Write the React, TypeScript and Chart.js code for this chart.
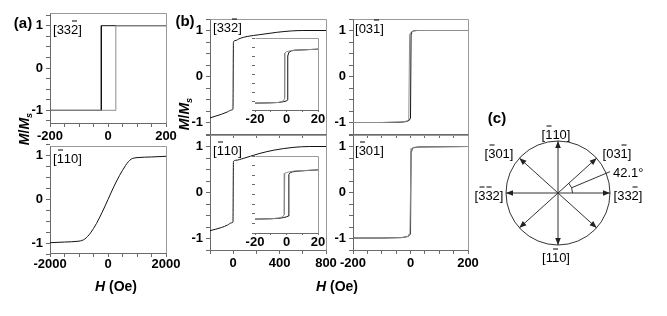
import React, { useEffect, useRef } from 'react';
import { Chart, registerables } from 'chart.js';

Chart.register(...registerables);

const FONT = '"Liberation Sans", Arial, Helvetica, sans-serif';
const AXIS = '#6a6a6a';
const FRAME = '#9a9a9a';
const BLACK = '#111111';
const GRAY = '#8c8c8c';

// ---------- shared ticks ----------
const Y_TICKS = [-1.25, -1, -0.75, -0.5, -0.25, 0, 0.25, 0.5, 0.75, 1, 1.25];
const Y_LABELS = [-1, 0, 1];
const INSET_Y_TICKS = [-1, -0.75, -0.5, -0.25, 0, 0.25, 0.5, 0.75, 1];
const FIELD200_TICKS = [-200, -150, -100, -50, 0, 50, 100, 150, 200];
const FIELD200_LABELS = [-200, 0, 200];
const FIELD2000_TICKS = [-2000, -1500, -1000, -500, 0, 500, 1000, 1500, 2000];
const FIELD2000_LABELS = [-2000, 0, 2000];
const FIELD800_TICKS = [-200, 0, 200, 400, 600, 800];
const FIELD800_LABELS = [0, 400, 800];
const INSET_X_TICKS = [-20, -10, 0, 10, 20];
const INSET_X_LABELS = [-20, 0, 20];

// ---------- (a) top : [33-2] ----------
const A1_LABEL = '[33~2]';
const A1_UP_H = [-200, 27, 27, 200];
const A1_UP_M = [-1, -1, 1, 1];
const A1_DN_H = [200, -23, -23, -200];
const A1_DN_M = [1, 1, -1, -1];

// ---------- (a) bottom : [-110] ----------
const A2_LABEL = '[~110]';
const A2_H = [-2000, -1500, -1000, -900, -800, -700, -600, -400, -200, 0, 200, 400, 600, 700, 800, 900, 1000, 1500, 2000];
const A2_M = [-0.985, -0.97, -0.95, -0.935, -0.9, -0.84, -0.76, -0.55, -0.29, 0, 0.29, 0.55, 0.77, 0.86, 0.92, 0.945, 0.955, 0.97, 0.985];

// ---------- (b) left top : [33-2] ----------
const B1_LABEL = '[33~2]';
const B1_H = [-200, -150, -100, -50, -15, -2, 2, 15, 60, 120, 230, 375, 500, 600, 800];
const B1_M = [-0.9, -0.86, -0.82, -0.77, -0.73, -0.71, 0.74, 0.78, 0.83, 0.87, 0.91, 0.96, 0.99, 1.0, 1.0];
const B1I_UP_H = [-20, -10, -5, -2, 0, 0.6, 0.8, 1.5, 3, 5, 10, 20];
const B1I_UP_M = [-0.81, -0.8, -0.79, -0.77, -0.75, -0.72, 0.5, 0.6, 0.64, 0.66, 0.67, 0.69];
const B1I_DN_H = [20, 10, 5, 2, 0, -1.0, -1.2, -2, -5, -10, -20];
const B1I_DN_M = [0.69, 0.67, 0.66, 0.64, 0.62, 0.58, -0.68, -0.75, -0.79, -0.8, -0.81];

// ---------- (b) left bottom : [-110] ----------
const B2_LABEL = '[~110]';
const B2_H = [-200, -100, -50, -15, -2, 2, 20, 86, 150, 230, 350, 516, 660, 800];
const B2_M = [-0.83, -0.76, -0.71, -0.66, -0.64, 0.67, 0.7, 0.74, 0.79, 0.85, 0.92, 0.98, 1.0, 1.0];
const B2I_UP_H = [-20, -10, -5, -2, 0, 1.2, 1.5, 2.5, 4, 8, 20];
const B2I_UP_M = [-0.64, -0.63, -0.62, -0.6, -0.58, -0.56, 0.52, 0.57, 0.59, 0.61, 0.64];
const B2I_DN_H = [20, 10, 5, 2, 0, -1.1, -1.4, -2.5, -5, -10, -20];
const B2I_DN_M = [0.64, 0.62, 0.61, 0.59, 0.57, 0.55, -0.52, -0.58, -0.61, -0.63, -0.64];

// ---------- (b) right top : [03-1] ----------
const C1_LABEL = '[03~1]';
const C1_UP_H = [-200, -100, -40, -20, -10, -4, 0, 2, 4, 10, 20, 200];
const C1_UP_M = [-1, -1, -0.995, -0.985, -0.97, -0.95, -0.9, 0.93, 0.97, 0.99, 1, 1];
const C1_DN_H = [200, 20, 10, 4, 0, -3, -6, -10, -20, -40, -100, -200];
const C1_DN_M = [1, 1, 0.99, 0.97, 0.95, 0.9, -0.93, -0.96, -0.98, -0.99, -1, -1];

// ---------- (b) right bottom : [-301] ----------
const C2_LABEL = '[~301]';
const C2_UP_H = [-200, -100, -30, -12, -5, 0, 2, 5, 10, 27, 200];
const C2_UP_M = [-0.99, -0.99, -0.98, -0.96, -0.94, -0.9, 0.9, 0.94, 0.97, 0.99, 1];
const C2_DN_H = [200, 27, 10, 5, 2, -2, -5, -12, -30, -100, -200];
const C2_DN_M = [1, 0.99, 0.98, 0.96, 0.93, -0.9, -0.94, -0.96, -0.98, -0.99, -0.99];

// ---------- (c) directions ----------
const DIAL_ANGLES = [0, 42.1, 90, 137.9, 180, 222.1, 270, 317.9];
const DIAL_MARK_ANGLE = 42.1;
const DIAL_ARC_R = 0.28;
const DIAL_LEADER_END = [1.0, 0.41];
const DIAL_LABELS: [string, number, number][] = [
  ['[~110]', 556, 134],
  ['[1~10]', 556, 257],
  ['[03~1]', 617, 153],
  ['[33~2]', 628, 195],
  ['[~301]', 499, 153],
  ['[~3~32]', 489, 195],
];
const DIAL_ANGLE_TEXT = '42.1°';

type Series = { h: number[]; m: number[]; color: string; smooth?: boolean };

const framePlugin = {
  id: 'frame',
  beforeDatasetsDraw(chart: any, _a: any, opts: any) {
    if (!opts || !opts.fill) return;
    const { ctx, chartArea: c } = chart;
    ctx.save();
    ctx.fillStyle = '#ffffff';
    ctx.fillRect(c.left, c.top, c.right - c.left, c.bottom - c.top);
    ctx.restore();
  },
  afterDraw(chart: any) {
    const { ctx, chartArea: c } = chart;
    ctx.save();
    ctx.strokeStyle = FRAME;
    ctx.lineWidth = 1;
    ctx.beginPath();
    ctx.moveTo(Math.round(c.left) + 0.5, Math.round(c.top) + 0.5);
    ctx.lineTo(Math.round(c.right) + 0.5, Math.round(c.top) + 0.5);
    ctx.lineTo(Math.round(c.right) + 0.5, Math.round(c.bottom) + 0.5);
    ctx.stroke();
    ctx.restore();
  },
};

const near = (arr: number[], v: number) => arr.some((a) => Math.abs(a - v) < 1e-9);

type PlotProps = {
  area: [number, number, number, number];
  xRange: [number, number];
  yRange: [number, number];
  xTicks: number[];
  xLabels: number[];
  yTicks: number[];
  yLabels: number[];
  series: Series[];
  inset?: boolean;
  xPad?: number;
};

function Plot(p: PlotProps) {
  const ref = useRef<HTMLCanvasElement>(null);
  const PL = 40, PT = 16, PR = 26, PB = 30;
  const [x0, y0, x1, y1] = p.area;
  const W = x1 - x0 + PL + PR;
  const H = y1 - y0 + PT + PB;
  useEffect(() => {
    const tickFont = { family: FONT, size: 13, weight: 'bold' as const };
    const chart = new Chart(ref.current as HTMLCanvasElement, {
      type: 'scatter',
      data: {
        datasets: p.series.map((s) => ({
          data: s.h.map((h, i) => ({ x: h, y: s.m[i] })),
          showLine: true,
          borderColor: s.color,
          backgroundColor: s.color,
          borderWidth: 1,
          pointRadius: 0,
          pointHoverRadius: 0,
          fill: false,
          tension: 0,
          cubicInterpolationMode: s.smooth ? 'monotone' : 'default',
        })) as any,
      },
      options: {
        responsive: false,
        animation: false,
        devicePixelRatio: 1,
        events: [],
        layout: { padding: { top: PT, right: PR, left: 0, bottom: 0 } },
        plugins: {
          legend: { display: false },
          tooltip: { enabled: false },
          frame: { fill: !!p.inset },
        } as any,
        scales: {
          x: {
            type: 'linear',
            min: p.xRange[0],
            max: p.xRange[1],
            afterFit: (s: any) => { s.height = PB; },
            afterBuildTicks: (s: any) => { s.ticks = p.xTicks.map((v) => ({ value: v })); },
            ticks: {
              callback: (v: any) => (near(p.xLabels, Number(v)) ? String(v) : ''),
              font: tickFont,
              color: '#000',
              padding: p.xPad ?? 2,
              maxRotation: 0,
              minRotation: 0,
              autoSkip: false,
            },
            grid: { drawOnChartArea: false, drawTicks: true, tickLength: p.inset ? 2 : 4, color: AXIS },
            border: { display: true, color: AXIS },
          },
          y: {
            type: 'linear',
            min: p.yRange[0],
            max: p.yRange[1],
            afterFit: (s: any) => { s.width = PL; },
            afterBuildTicks: (s: any) => { s.ticks = p.yTicks.map((v) => ({ value: v })); },
            ticks: {
              callback: (v: any) => (near(p.yLabels, Number(v)) ? String(v) : ''),
              font: tickFont,
              color: '#000',
              padding: 3,
              autoSkip: false,
            },
            grid: { drawOnChartArea: false, drawTicks: true, tickLength: p.inset ? 3 : 4, color: AXIS },
            border: { display: true, color: AXIS },
          },
        } as any,
      },
      plugins: [framePlugin as any],
    });
    return () => chart.destroy();
  }, []);
  return (
    <canvas
      ref={ref}
      width={W}
      height={H}
      style={{ position: 'absolute', left: x0 - PL, top: y0 - PT, width: W, height: H }}
    />
  );
}

const rad = (d: number) => (d * Math.PI) / 180;

const dialPlugin = {
  id: 'dial',
  afterDatasetsDraw(chart: any) {
    const { ctx, scales } = chart;
    const sx = scales.x, sy = scales.y;
    const cx = sx.getPixelForValue(0);
    const cy = sy.getPixelForValue(0);
    const r = sx.getPixelForValue(1) - cx;
    ctx.save();
    ctx.strokeStyle = '#333';
    ctx.fillStyle = '#222';
    ctx.lineWidth = 1;
    ctx.beginPath();
    ctx.arc(cx, cy, r, 0, Math.PI * 2);
    ctx.stroke();
    chart.data.datasets.forEach((ds: any, i: number) => {
      if (!ds.arrow) return;
      const pts = chart.getDatasetMeta(i).data;
      const a = pts[0], b = pts[pts.length - 1];
      const ang = Math.atan2(b.y - a.y, b.x - a.x);
      const L = 7, w = 2.8;
      const bx = b.x - L * Math.cos(ang), by = b.y - L * Math.sin(ang);
      ctx.beginPath();
      ctx.moveTo(b.x, b.y);
      ctx.lineTo(bx + w * Math.sin(ang), by - w * Math.cos(ang));
      ctx.lineTo(bx - w * Math.sin(ang), by + w * Math.cos(ang));
      ctx.closePath();
      ctx.fill();
    });
    const ar = sx.getPixelForValue(DIAL_ARC_R) - cx;
    ctx.beginPath();
    ctx.arc(cx, cy, ar, -rad(DIAL_MARK_ANGLE), 0);
    ctx.stroke();
    ctx.restore();
  },
};

function Dial() {
  const ref = useRef<HTMLCanvasElement>(null);
  const P = 10;
  const area = [506, 141, 610, 245];
  const W = area[2] - area[0] + 2 * P;
  const H = area[3] - area[1] + 2 * P;
  useEffect(() => {
    const arrows = DIAL_ANGLES.map((a) => ({
      data: [{ x: 0, y: 0 }, { x: Math.cos(rad(a)), y: Math.sin(rad(a)) }],
      arrow: true,
      showLine: true,
      borderColor: '#333',
      borderWidth: 1,
      pointRadius: 0,
      clip: false,
    }));
    const half = rad(DIAL_MARK_ANGLE / 2);
    const leader = {
      data: [
        { x: DIAL_ARC_R * Math.cos(half), y: DIAL_ARC_R * Math.sin(half) },
        { x: DIAL_LEADER_END[0], y: DIAL_LEADER_END[1] },
      ],
      arrow: false,
      showLine: true,
      borderColor: '#333',
      borderWidth: 1,
      pointRadius: 0,
      clip: false,
    };
    const chart = new Chart(ref.current as HTMLCanvasElement, {
      type: 'scatter',
      data: { datasets: [...arrows, leader] as any },
      options: {
        responsive: false,
        animation: false,
        devicePixelRatio: 1,
        events: [],
        layout: { padding: P },
        plugins: { legend: { display: false }, tooltip: { enabled: false } },
        scales: {
          x: { type: 'linear', min: -1, max: 1, display: false },
          y: { type: 'linear', min: -1, max: 1, display: false },
        },
      },
      plugins: [dialPlugin as any],
    });
    return () => chart.destroy();
  }, []);
  return (
    <canvas
      ref={ref}
      width={W}
      height={H}
      style={{ position: 'absolute', left: area[0] - P, top: area[1] - P, width: W, height: H }}
    />
  );
}

function Miller({ s }: { s: string }) {
  const out: React.ReactNode[] = [];
  let bar = false;
  for (const ch of s) {
    if (ch === '~') { bar = true; continue; }
    out.push(
      bar ? (
        <span key={out.length} style={{ position: 'relative' }}>
          {ch}
          <span
            style={{
              position: 'absolute',
              left: 1,
              right: 1,
              top: -1,
              height: 1,
              background: '#000',
            }}
          />
        </span>
      ) : (
        <span key={out.length}>{ch}</span>
      )
    );
    bar = false;
  }
  return <>{out}</>;
}

const baseText: React.CSSProperties = {
  position: 'absolute',
  whiteSpace: 'nowrap',
  lineHeight: 1,
  fontFamily: FONT,
  color: '#000',
};

function Label({ x, y, s, align = 'left', size = 13 }: { x: number; y: number; s: string; align?: 'left' | 'center'; size?: number }) {
  return (
    <div
      style={{
        ...baseText,
        left: x,
        top: y,
        fontSize: size,
        transform: align === 'center' ? 'translate(-50%, -50%)' : 'translate(0, -50%)',
      }}
    >
      <Miller s={s} />
    </div>
  );
}

function Bold({ x, y, children, rotate = false, size = 15 }: { x: number; y: number; children: React.ReactNode; rotate?: boolean; size?: number }) {
  return (
    <div
      style={{
        ...baseText,
        left: x,
        top: y,
        fontSize: size,
        fontWeight: 'bold',
        transform: rotate ? 'translate(-50%, -50%) rotate(-90deg)' : 'translate(-50%, -50%)',
      }}
    >
      {children}
    </div>
  );
}

const MMs = () => (
  <>
    <i>M</i>/<i>M</i>
    <i style={{ fontSize: 9, position: 'relative', top: 3 }}>s</i>
  </>
);
const HOe = () => (
  <>
    <i>H</i> (Oe)
  </>
);

export default function App() {
  return (
    <div
      style={{
        position: 'fixed',
        left: 0,
        top: 0,
        width: 667,
        height: 316,
        background: '#fff',
        overflow: 'hidden',
      }}
    >
      {/* (a) */}
      <Plot
        area={[50, 13, 166, 123]}
        xRange={[-200, 200]}
        yRange={[-1.3, 1.3]}
        xTicks={FIELD200_TICKS}
        xLabels={FIELD200_LABELS}
        yTicks={Y_TICKS}
        yLabels={Y_LABELS}
        series={[
          { h: A1_UP_H, m: A1_UP_M, color: GRAY },
          { h: A1_DN_H, m: A1_DN_M, color: BLACK },
        ]}
      />
      <Plot
        area={[50, 146, 166, 253]}
        xRange={[-2000, 2000]}
        yRange={[-1.22, 1.22]}
        xTicks={FIELD2000_TICKS}
        xLabels={FIELD2000_LABELS}
        yTicks={Y_TICKS}
        yLabels={Y_LABELS}
        xPad={0}
        series={[{ h: A2_H, m: A2_M, color: BLACK, smooth: true }]}
      />
      {/* (b) left */}
      <Plot
        area={[210, 19, 326, 134]}
        xRange={[-200, 800]}
        yRange={[-1.25, 1.25]}
        xTicks={FIELD800_TICKS}
        xLabels={[]}
        yTicks={Y_TICKS}
        yLabels={Y_LABELS}
        series={[{ h: B1_H, m: B1_M, color: BLACK, smooth: true }]}
      />
      <Plot
        area={[210, 135, 326, 250]}
        xRange={[-200, 800]}
        yRange={[-1.25, 1.25]}
        xTicks={FIELD800_TICKS}
        xLabels={FIELD800_LABELS}
        yTicks={Y_TICKS}
        yLabels={Y_LABELS}
        series={[{ h: B2_H, m: B2_M, color: BLACK, smooth: true }]}
      />
      {/* (b) right */}
      <Plot
        area={[353, 19, 468, 134]}
        xRange={[-200, 200]}
        yRange={[-1.25, 1.25]}
        xTicks={FIELD200_TICKS}
        xLabels={[]}
        yTicks={Y_TICKS}
        yLabels={Y_LABELS}
        series={[
          { h: C1_DN_H, m: C1_DN_M, color: GRAY },
          { h: C1_UP_H, m: C1_UP_M, color: BLACK },
        ]}
      />
      <Plot
        area={[353, 135, 468, 250]}
        xRange={[-200, 200]}
        yRange={[-1.25, 1.25]}
        xTicks={FIELD200_TICKS}
        xLabels={FIELD200_LABELS}
        yTicks={Y_TICKS}
        yLabels={Y_LABELS}
        series={[
          { h: C2_DN_H, m: C2_DN_M, color: GRAY },
          { h: C2_UP_H, m: C2_UP_M, color: BLACK },
        ]}
      />
      {/* insets */}
      <Plot
        area={[255, 38, 318, 110]}
        xRange={[-20, 20]}
        yRange={[-1, 1]}
        xTicks={INSET_X_TICKS}
        xLabels={INSET_X_LABELS}
        yTicks={INSET_Y_TICKS}
        yLabels={[]}
        inset
        xPad={0}
        series={[
          { h: B1I_DN_H, m: B1I_DN_M, color: GRAY },
          { h: B1I_UP_H, m: B1I_UP_M, color: BLACK },
        ]}
      />
      <Plot
        area={[255, 156, 318, 233]}
        xRange={[-20, 20]}
        yRange={[-1, 1]}
        xTicks={INSET_X_TICKS}
        xLabels={INSET_X_LABELS}
        yTicks={INSET_Y_TICKS}
        yLabels={[]}
        inset
        xPad={0}
        series={[
          { h: B2I_DN_H, m: B2I_DN_M, color: GRAY },
          { h: B2I_UP_H, m: B2I_UP_M, color: BLACK },
        ]}
      />
      {/* (c) */}
      <Dial />

      {/* panel labels */}
      <Label x={53} y={29} s={A1_LABEL} />
      <Label x={53} y={158} s={A2_LABEL} />
      <Label x={213} y={27} s={B1_LABEL} />
      <Label x={213} y={150} s={B2_LABEL} />
      <Label x={355} y={28} s={C1_LABEL} />
      <Label x={355} y={150} s={C2_LABEL} />
      {DIAL_LABELS.map(([s, x, y]) => (
        <Label key={s} x={x} y={y} s={s} align="center" />
      ))}
      <div style={{ ...baseText, left: 613, top: 172, fontSize: 13, transform: 'translate(0, -50%)' }}>
        {DIAL_ANGLE_TEXT}
      </div>

      <Bold x={23} y={22}>(a)</Bold>
      <Bold x={185} y={20}>(b)</Bold>
      <Bold x={497} y={117}>(c)</Bold>
      <Bold x={24} y={129} rotate size={14}><MMs /></Bold>
      <Bold x={184} y={114} rotate size={14}><MMs /></Bold>
      <Bold x={116} y={286} size={14}><HOe /></Bold>
      <Bold x={337} y={286} size={14}><HOe /></Bold>
    </div>
  );
}
